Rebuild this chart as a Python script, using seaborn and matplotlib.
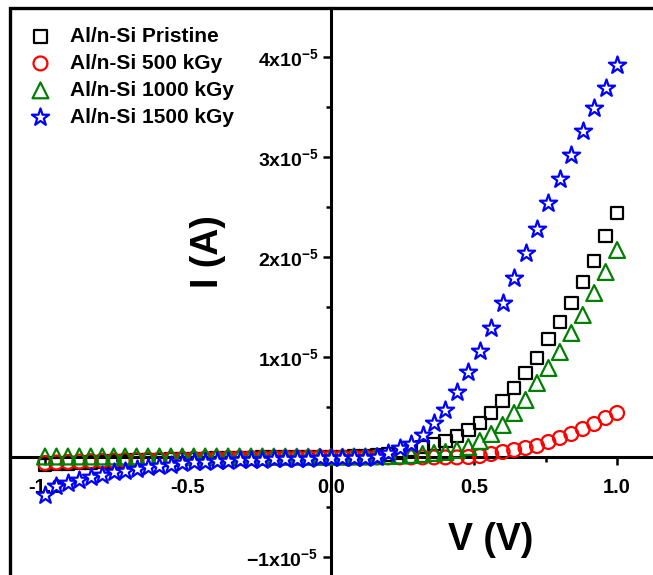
import numpy as np
import matplotlib
matplotlib.use("Agg")
import matplotlib.pyplot as plt
from matplotlib.patches import Rectangle
from matplotlib.ticker import MultipleLocator, FuncFormatter
import seaborn as sns

# voltage grid (V)
voltage = [-1.00, -0.96, -0.92, -0.88, -0.84, -0.80, -0.76, -0.72, -0.68, -0.64,
           -0.60, -0.56, -0.52, -0.48, -0.44, -0.40, -0.36, -0.32, -0.28, -0.24,
           -0.20, -0.16, -0.12, -0.08, -0.04, 0.00, 0.04, 0.08, 0.12, 0.16,
           0.20, 0.24, 0.28, 0.32, 0.36, 0.40, 0.44, 0.48, 0.52, 0.56,
           0.60, 0.64, 0.68, 0.72, 0.76, 0.80, 0.84, 0.88, 0.92, 0.96, 1.00]

# current in units of 1e-5 A
pristine = [-0.08, -0.07, -0.065, -0.06, -0.055, -0.05, -0.045, -0.04, -0.035, -0.03,
            -0.028, -0.025, -0.022, -0.02, -0.018, -0.015, -0.013, -0.011, -0.009, -0.007,
            -0.006, -0.005, -0.004, -0.003, -0.002, 0.0, 0.002, 0.005, 0.01, 0.015,
            0.025, 0.04, 0.07, 0.10, 0.13, 0.16, 0.21, 0.27, 0.34, 0.44,
            0.56, 0.69, 0.84, 0.99, 1.18, 1.35, 1.54, 1.75, 1.96, 2.21, 2.44]
kgy500 = [-0.06, -0.055, -0.05, -0.046, -0.042, -0.038, -0.035, -0.032, -0.029, -0.026,
          -0.024, -0.022, -0.02, -0.018, -0.016, -0.014, -0.012, -0.011, -0.01, -0.009,
          -0.008, -0.007, -0.006, -0.005, -0.004, -0.004, -0.004, -0.004, -0.004, -0.004,
          -0.004, -0.004, -0.004, -0.004, -0.004, -0.004, -0.004, 0.0, 0.01, 0.03,
          0.05, 0.07, 0.09, 0.11, 0.15, 0.19, 0.23, 0.28, 0.33, 0.39, 0.44]
kgy1000 = [0.005, 0.005, 0.005, 0.005, 0.005, 0.005, 0.005, 0.005, 0.005, 0.005,
           0.005, 0.005, 0.005, 0.005, 0.005, 0.005, 0.005, 0.005, 0.005, 0.005,
           0.004, 0.004, 0.003, 0.003, 0.002, 0.002, 0.003, 0.005, 0.006, 0.008,
           0.01, 0.015, 0.02, 0.03, 0.04, 0.05, 0.07, 0.10, 0.16, 0.23,
           0.32, 0.44, 0.57, 0.74, 0.89, 1.05, 1.24, 1.42, 1.64, 1.85, 2.07]
kgy1500 = [-0.38, -0.29, -0.26, -0.23, -0.20, -0.18, -0.15, -0.14, -0.12, -0.10,
           -0.09, -0.08, -0.06, -0.05, -0.05, -0.04, -0.035, -0.03, -0.028, -0.025,
           -0.022, -0.02, -0.018, -0.015, -0.013, -0.012, -0.01, -0.008, -0.005, 0.0,
           0.04, 0.09, 0.13, 0.22, 0.34, 0.47, 0.65, 0.85, 1.06, 1.29,
           1.54, 1.79, 2.04, 2.28, 2.54, 2.78, 3.02, 3.26, 3.49, 3.69, 3.92]

labels = ["Al/n-Si Pristine", "Al/n-Si 500 kGy", "Al/n-Si 1000 kGy", "Al/n-Si 1500 kGy"]
series = [pristine, kgy500, kgy1000, kgy1500]
colors = ["black", "red", "green", "blue"]
markers = ["s", "o", "^", "*"]
faces = ["none", "none", "none", "white"]
sizes = [80, 100, 130, 170]

sns.set_style("ticks")
plt.rcParams["font.family"] = ["Liberation Sans", "DejaVu Sans"]
plt.rcParams["font.weight"] = "bold"
plt.rcParams["text.color"] = "black"
plt.rcParams["axes.labelcolor"] = "black"
plt.rcParams["xtick.color"] = "black"
plt.rcParams["ytick.color"] = "black"
plt.rcParams["mathtext.fontset"] = "custom"
plt.rcParams["mathtext.rm"] = "Liberation Sans"
plt.rcParams["mathtext.bf"] = "Liberation Sans:bold"

fig = plt.figure(figsize=(6.53, 5.75), dpi=100)
ax = fig.add_axes([10 / 653, -12 / 575, 664 / 653, 579 / 575])

for vals, lab, c, m, fc, s in zip(series, labels, colors, markers, faces, sizes):
    sns.scatterplot(x=voltage, y=np.array(vals) * 1e-5, marker=m, s=s,
                    color=c, facecolor=fc, edgecolor=c, linewidth=1.6,
                    label=lab, ax=ax, clip_on=False, zorder=3)

ax.set_xlim(-1.1224, 1.199)
ax.set_ylim(-1.30e-5, 4.49e-5)

# axes crossing at the origin
for side in ["top", "right"]:
    ax.spines[side].set_visible(False)
ax.spines["left"].set_position(("data", 0))
ax.spines["bottom"].set_position(("data", 0))
ax.spines["left"].set_linewidth(2.2)
ax.spines["bottom"].set_linewidth(2.2)
ax.spines["left"].set_color("black")
ax.spines["bottom"].set_color("black")
ax.add_patch(Rectangle((0, 0), 1, 1, transform=ax.transAxes, fill=False,
                       lw=2.4, edgecolor="black", clip_on=False, zorder=5))

ax.xaxis.set_major_locator(MultipleLocator(0.5))
ax.xaxis.set_minor_locator(MultipleLocator(0.25))
ax.yaxis.set_major_locator(MultipleLocator(1e-5))
ax.yaxis.set_minor_locator(MultipleLocator(0.5e-5))
ax.xaxis.set_major_formatter(FuncFormatter(lambda v, p: "%.1f" % v))
ax.yaxis.set_major_formatter(FuncFormatter(
    lambda v, p: "" if abs(v) < 1e-9 else r"$\mathbf{%dx10^{-5}}$" % round(v * 1e5)))
ax.tick_params(which="major", direction="out", length=6, width=1.8)
ax.tick_params(which="minor", direction="out", length=3.5, width=1.8)
ax.tick_params(axis="x", which="major", pad=9, labelsize=14.5)
ax.tick_params(axis="y", which="major", pad=3, labelsize=14)
for t in ax.get_xticklabels() + ax.get_yticklabels():
    t.set_fontweight("bold")

fig.text(208 / 653, 1 - 252 / 575, "I (A)", rotation=90, fontsize=27,
         fontweight="bold", ha="center", va="center")
fig.text(491 / 653, 1 - 540 / 575, "V (V)", fontsize=27,
         fontweight="bold", ha="center", va="center")

ax.legend(loc="upper left", bbox_to_anchor=(29 / 653, 1 - 27 / 575),
          bbox_transform=fig.transFigure, frameon=False, borderaxespad=0,
          borderpad=0, handlelength=1.1, handletextpad=0.85, labelspacing=0.38,
          prop={"size": 15, "weight": "bold"})

fig.savefig("out.png", dpi=100)
